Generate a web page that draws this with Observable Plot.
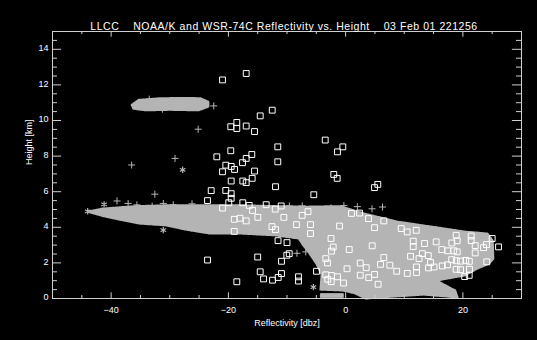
<!DOCTYPE html>
<html><head><meta charset="utf-8">
<script src="https://cdn.jsdelivr.net/npm/d3@7"></script>
<script src="https://cdn.jsdelivr.net/npm/@observablehq/plot@0.6"></script>
<style>
html,body{margin:0;padding:0;background:#000;}
#chart svg text{white-space:pre;}
</style></head><body><div id="chart"></div>
<script>
const title = "LLCC    NOAA/K and WSR-74C Reflectivity vs. Height    03 Feb 01 221256";
const xLabel = "Reflectivity [dbz]";
const yLabel = "Height [km]";
const xMajorTicks = [-40, -20, 0, 20];
const xMinorTicks = [-45, -35, -30, -25, -15, -10, -5, 5, 10, 15, 25];
const yMajorTicks = [0, 2, 4, 6, 8, 10, 12, 14];
const yMinorTicks = [0.5, 1, 1.5, 2.5, 3, 3.5, 4.5, 5, 5.5, 6.5, 7, 7.5, 8.5, 9, 9.5, 10.5, 11, 11.5, 12.5, 13, 13.5, 14.5];

// satellite (NOAA/K) reflectivity cloud outlines [dBZ, km]
const cloudMain = [
  [-44.0,4.88],[-41.5,5.05],[-35.8,5.19],[-29.9,5.24],[-23.2,5.24],[-17.9,5.24],[-12.1,5.19],
  [-6.5,5.16],[-0.9,5.19],[3.2,4.77],[8.8,4.32],[14.6,4.04],[20.3,3.76],[24.2,3.65],[25.1,3.25],
  [25.2,2.24],[24.5,1.96],[22.5,1.68],[20.3,1.29],[17.4,1.12],[15.5,1.01],[18.7,0.45],[19.1,0.06],
  [13.3,0.22],[3.4,0.0],[1.5,0.3],[-0.5,0.45],[-4.3,0.5],[-4.1,1.35],[-5.0,1.96],[-6.5,2.69],[-7.2,2.97],
  [-8.0,3.37],[-12.1,3.55],[-17.9,3.65],[-23.2,3.65],[-27.3,3.87],[-30.7,4.11],[-35.2,4.21],
  [-38.6,4.43],[-41.5,4.64]
];
const cloudUpper = [
  [-36.5,10.88],[-35.3,11.16],[-31.6,11.25],[-27.3,11.27],[-24.8,11.25],[-23.4,11.05],
  [-23.4,10.77],[-25.1,10.57],[-29.9,10.6],[-34.1,10.57],[-36.2,10.66]
];
const cloudSlab = [[-4.3,0.07],[-4.3,0.27],[-0.4,0.27],[-0.4,0.07]];

const plusPoints = [
  [-22.5,10.82],[-25.15,9.51],[-29.1,7.87],[-36.5,7.50],[-32.55,5.86],[-39.0,5.48],[-37.1,5.34],
  [-35.6,5.26],[-33.0,5.19],[-31.1,5.34],[-29.4,5.27],[-26.2,5.32],[-9.6,5.20],[-7.4,5.20],
  [-2.5,5.09],[-0.3,5.22],[2.0,5.16],[4.5,5.04],[6.3,5.14],[-8.3,2.54],[-6.8,2.62],
  [-33.5,11.2],[-31.24,10.64]
];
const asteriskPoints = [[-27.8,7.23],[-41.2,5.29],[-31.1,3.84],[-5.5,0.64],[-44.0,4.9]];

// WSR-74C radar reflectivity [dBZ, km]
const radarSquares = [
  [-16.96,12.64],[-21.0,12.28],[-12.52,10.58],[-14.57,10.26],[-18.56,9.89],[-19.59,9.65],[-18.56,9.55],
  [-16.96,9.69],[-15.54,9.38],[-3.48,8.90],[-0.48,8.52],[-1.39,8.24],[-11.57,8.52],[-19.59,8.30],
  [-21.97,7.96],[-16.0,8.09],[-16.96,7.87],[-17.59,7.63],[-11.57,7.68],[-20.44,7.49],[-19.52,7.42],
  [-18.95,7.25],[-21.0,7.12],[-15.54,7.16],[-2.02,6.97],[-1.44,6.75],[-19.52,6.60],[-17.54,6.60],
  [-16.96,6.51],[-15.94,6.75],[-11.96,6.28],[-22.93,6.06],[-20.44,6.07],[-19.52,5.89],[-19.52,5.63],
  [-23.56,5.50],[-17.54,5.38],[-19.93,5.38],[-5.43,5.83],[-13.55,5.27],[-12.01,5.02],[-10.99,5.20],
  [-21.0,5.08],[-16.45,5.23],[-15.88,4.95],[-14.98,4.56],[-19.0,4.45],[-18.02,4.51],[-16.96,4.36],
  [-10.54,4.56],[-7.41,4.67],[-6.42,4.88],[1.0,4.78],[2.37,4.80],[-12.56,4.04],[-11.96,3.87],
  [-8.38,4.15],[-5.99,4.15],[-1.04,4.07],[-19.0,3.77],[-5.99,3.65],[-11.53,3.25],[-10.0,3.14],
  [-2.49,3.37],[-2.12,2.89],[-2.41,2.66],[0.61,2.75],[-9.62,2.52],[-10.03,2.43],[-15.0,2.33],
  [-10.94,2.09],[-3.38,2.24],[-3.09,2.0],[2.49,1.99],[0.24,1.67],[-4.97,1.53],[-14.57,1.50],
  [-10.94,1.40],[-12.47,1.03],[-11.5,1.18],[-14.0,1.10],[-8.04,1.22],[-8.04,0.98],[-3.38,1.33],
  [-2.41,1.29],[-1.39,1.22],[-2.46,0.95],[-0.36,0.87],[2.49,1.31],[-18.56,0.94],[-23.56,2.16],
  [-3.04,1.08],
  [5.49,6.41],[4.93,6.23],[3.90,4.49],[4.93,3.98],[6.51,4.36],[9.48,3.93],[10.5,3.74],[12.04,3.83],
  [4.53,2.96],[11.53,3.22],[11.53,2.92],[13.46,3.09],[15.45,3.18],[18.11,3.12],[18.86,3.55],
  [19.03,3.24],[21.42,3.51],[21.42,3.25],[22.1,2.97],[24.03,3.03],[25.0,3.37],[26.08,2.90],
  [23.52,2.86],[22.1,2.56],[16.41,2.75],[17.43,2.68],[18.45,2.68],[19.03,2.62],[11.07,2.37],
  [12.52,2.24],[13.08,2.52],[14.1,2.41],[6.51,2.30],[5.95,1.92],[7.54,1.87],[14.48,2.02],
  [14.14,1.72],[15.08,1.77],[16.49,1.83],[17.38,1.89],[18.1,2.18],[18.88,2.12],[19.6,2.10],
  [20.5,2.14],[21.1,2.09],[24.08,2.06],[18.86,1.64],[19.6,1.62],[21.13,1.64],[20.31,1.23],
  [21.08,1.30],[8.71,1.53],[10.52,1.41],[12.09,1.77],[12.09,1.46],[3.51,1.73],[4.93,1.35],
  [3.94,1.17],[5.54,0.80]
];

const W = 537, H = 340, mL = 52, mR = 16, mT = 31, mB = 42;
const xDomain = [-50, 30], yDomain = [0, 15];
const axisColor = "#d0d0d0";
const gray = "#b4b4b4";
const font = "'Liberation Sans', Arial, sans-serif";
// tick lengths in data units (~6px/3px along y, ~9px/5px along x)
const xTickMajor = 0.32, xTickMinor = 0.17, yTickMajor = 1.55, yTickMinor = 0.85;

const chart = Plot.plot({
  width: W, height: H,
  marginLeft: mL, marginRight: mR, marginTop: mT, marginBottom: mB,
  style: {background: "#000", color: "#fff", fontFamily: font, fontSize: "9px"},
  x: {domain: xDomain, axis: null},
  y: {domain: yDomain, axis: null},
  marks: [
    Plot.line(cloudMain, {x: d => d[0], y: d => d[1], curve: "linear-closed", fill: gray, stroke: gray, strokeWidth: 2, strokeDasharray: "1.5,1"}),
    Plot.line(cloudUpper, {x: d => d[0], y: d => d[1], curve: "linear-closed", fill: gray, stroke: gray, strokeWidth: 2, strokeDasharray: "1.5,1"}),
    Plot.line(cloudSlab, {x: d => d[0], y: d => d[1], curve: "linear-closed", fill: gray, stroke: gray, strokeWidth: 1}),
    Plot.dot(plusPoints, {x: d => d[0], y: d => d[1], symbol: "plus", r: 2.4, stroke: gray, strokeWidth: 1}),
    Plot.dot(asteriskPoints, {x: d => d[0], y: d => d[1], symbol: "asterisk", r: 3, stroke: gray, strokeWidth: 1.2}),
    Plot.dot(radarSquares, {x: d => d[0], y: d => d[1], symbol: "square", r: 3.3, stroke: "#fff", fill: "none", strokeWidth: 1}),
    Plot.frame({stroke: axisColor}),
    // inward ticks on all four sides
    Plot.ruleX(xMajorTicks, {x: d => d, y1: yDomain[0], y2: yDomain[0] + xTickMajor, stroke: axisColor}),
    Plot.ruleX(xMajorTicks, {x: d => d, y1: yDomain[1], y2: yDomain[1] - xTickMajor, stroke: axisColor}),
    Plot.ruleX(xMinorTicks, {x: d => d, y1: yDomain[0], y2: yDomain[0] + xTickMinor, stroke: axisColor}),
    Plot.ruleX(xMinorTicks, {x: d => d, y1: yDomain[1], y2: yDomain[1] - xTickMinor, stroke: axisColor}),
    Plot.ruleY(yMajorTicks, {y: d => d, x1: xDomain[0], x2: xDomain[0] + yTickMajor, stroke: axisColor}),
    Plot.ruleY(yMajorTicks, {y: d => d, x1: xDomain[1], x2: xDomain[1] - yTickMajor, stroke: axisColor}),
    Plot.ruleY(yMinorTicks, {y: d => d, x1: xDomain[0], x2: xDomain[0] + yTickMinor, stroke: axisColor}),
    Plot.ruleY(yMinorTicks, {y: d => d, x1: xDomain[1], x2: xDomain[1] - yTickMinor, stroke: axisColor}),
    Plot.text(xMajorTicks, {x: d => d, text: d => d < 0 ? "\u2212" + (-d) : String(d), frameAnchor: "bottom", dy: 14, fill: "#fff"}),
    Plot.text(yMajorTicks, {y: d => d, text: d => String(d), frameAnchor: "left", textAnchor: "end", dx: -4, dy: -1, fill: "#fff"}),
    Plot.text([xLabel], {text: d => d, frameAnchor: "bottom", dy: 27, fill: "#fff"}),
    Plot.text([yLabel], {text: d => d, frameAnchor: "left", dx: -23, rotate: -90, fill: "#fff"}),
    Plot.text([title], {text: d => d, frameAnchor: "top", dy: -9, dx: -3, fontSize: 10.5, fill: "#fff"})
  ]
});
// widen the title to match the original's spacing
d3.select(chart).selectAll("text").filter(function() { return this.textContent === title; })
  .style("letter-spacing", "0.55px");
document.getElementById("chart").appendChild(chart);
</script></body></html>
